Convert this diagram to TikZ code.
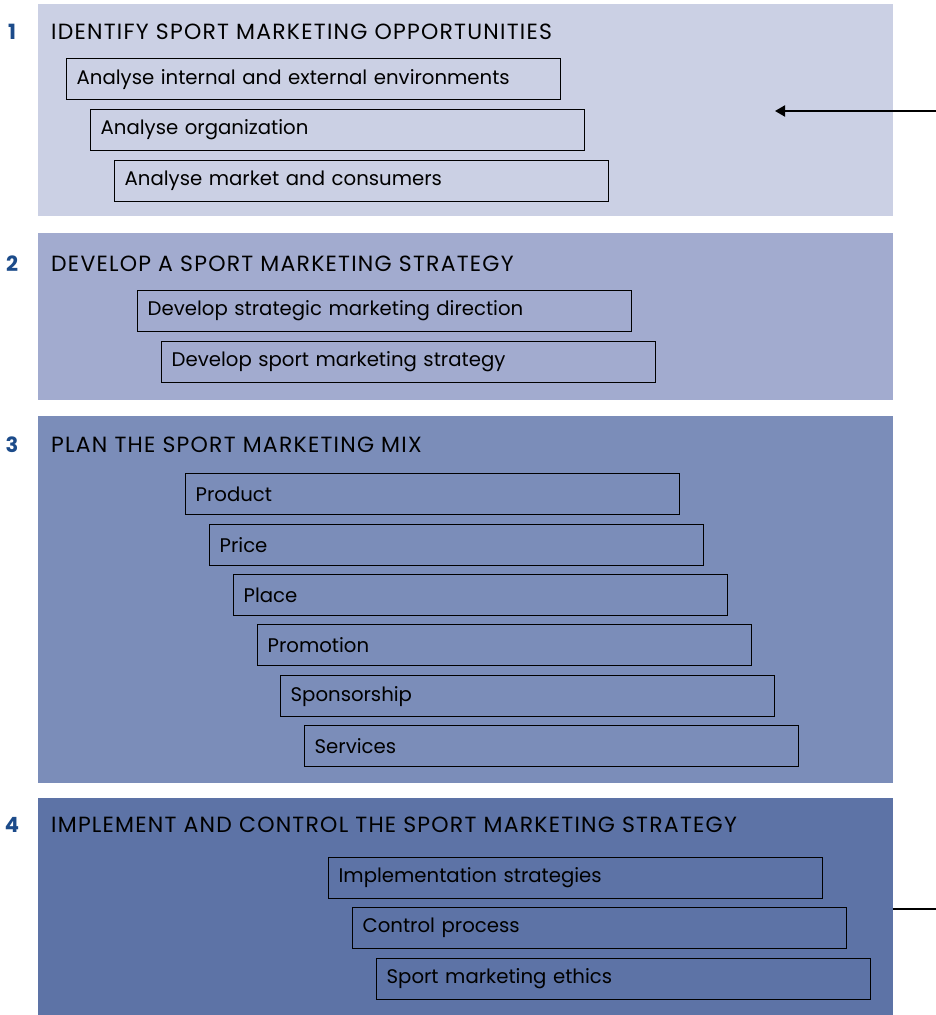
\documentclass[tikz,border=0pt]{standalone}
\usepackage{fontspec}
\setmainfont{Poppins}
\newfontfamily\titlefont[LetterSpace=5.6]{Poppins}
\usetikzlibrary{arrows.meta}
\definecolor{bandA}{HTML}{CBD0E4}
\definecolor{bandB}{HTML}{A2ABCF}
\definecolor{bandC}{HTML}{7B8DB9}
\definecolor{bandD}{HTML}{5D73A6}
\definecolor{numblue}{HTML}{1C4B8A}
\begin{document}
\begin{tikzpicture}[x=1pt,y=-1pt,
  item/.style={draw=black,line width=1.3pt,anchor=north west,minimum height=41pt,
    text width=474pt,inner xsep=10pt,inner ysep=0pt,align=left,
    font=\fontsize{19.7}{24}\selectfont},
  ttl/.style={anchor=base west,inner sep=0,font=\titlefont\fontsize{22}{26}\selectfont},
  num/.style={anchor=base,inner sep=0,text=numblue,font=\fontsize{21}{25}\selectfont\bfseries},
  conn/.style={line width=2pt,black}]
\useasboundingbox (0,0) rectangle (936,1015);
\fill[bandA] (38,4) rectangle (893,216);
\fill[bandB] (38,233) rectangle (893,400);
\fill[bandC] (38,416) rectangle (893,783);
\fill[bandD] (38,798) rectangle (893,1015);
% titles
\node[num] (n1) at (12,39) {1};
\node[ttl] (t1) at (51,39) {IDENTIFY SPORT MARKETING OPPORTUNITIES};
\node[num] (n2) at (12,271) {2};
\node[ttl] (t2) at (51,271) {DEVELOP A SPORT MARKETING STRATEGY};
\node[num] (n3) at (12,452) {3};
\node[ttl] (t3) at (51,452) {PLAN THE SPORT MARKETING MIX};
\node[num] (n4) at (12,832) {4};
\node[ttl] (t4) at (51,832) {IMPLEMENT AND CONTROL THE SPORT MARKETING STRATEGY};
% band 1
\node[item] (a1) at (66,58) {Analyse internal and external environments};
\node[item] (a2) at (90,109) {Analyse organization};
\node[item] (a3) at (114,160) {Analyse market and consumers};
% band 2
\node[item] (b1) at (137,290) {Develop strategic marketing direction};
\node[item] (b2) at (161,341) {Develop sport marketing strategy};
% band 3
\node[item] (c1) at (185,473) {Product};
\node[item] (c2) at (209,524) {Price};
\node[item] (c3) at (233,574) {Place};
\node[item] (c4) at (257,624) {Promotion};
\node[item] (c5) at (280,675) {Sponsorship};
\node[item] (c6) at (304,725) {Services};
% band 4
\node[item] (d1) at (328,857) {Implementation strategies};
\node[item] (d2) at (352,907) {Control process};
\node[item] (d3) at (376,958) {Sport marketing ethics};
% feedback connectors
\coordinate (fbin) at (936,111);
\coordinate (fbend) at (775,111);
\coordinate (fbout) at (893,909);
\coordinate (fbright) at (936,909);
\draw[conn,-{Triangle[length=10pt,width=11pt]}] (fbin) -- (fbend);
\draw[conn] (fbout) -- (fbright);
\end{tikzpicture}
\end{document}
